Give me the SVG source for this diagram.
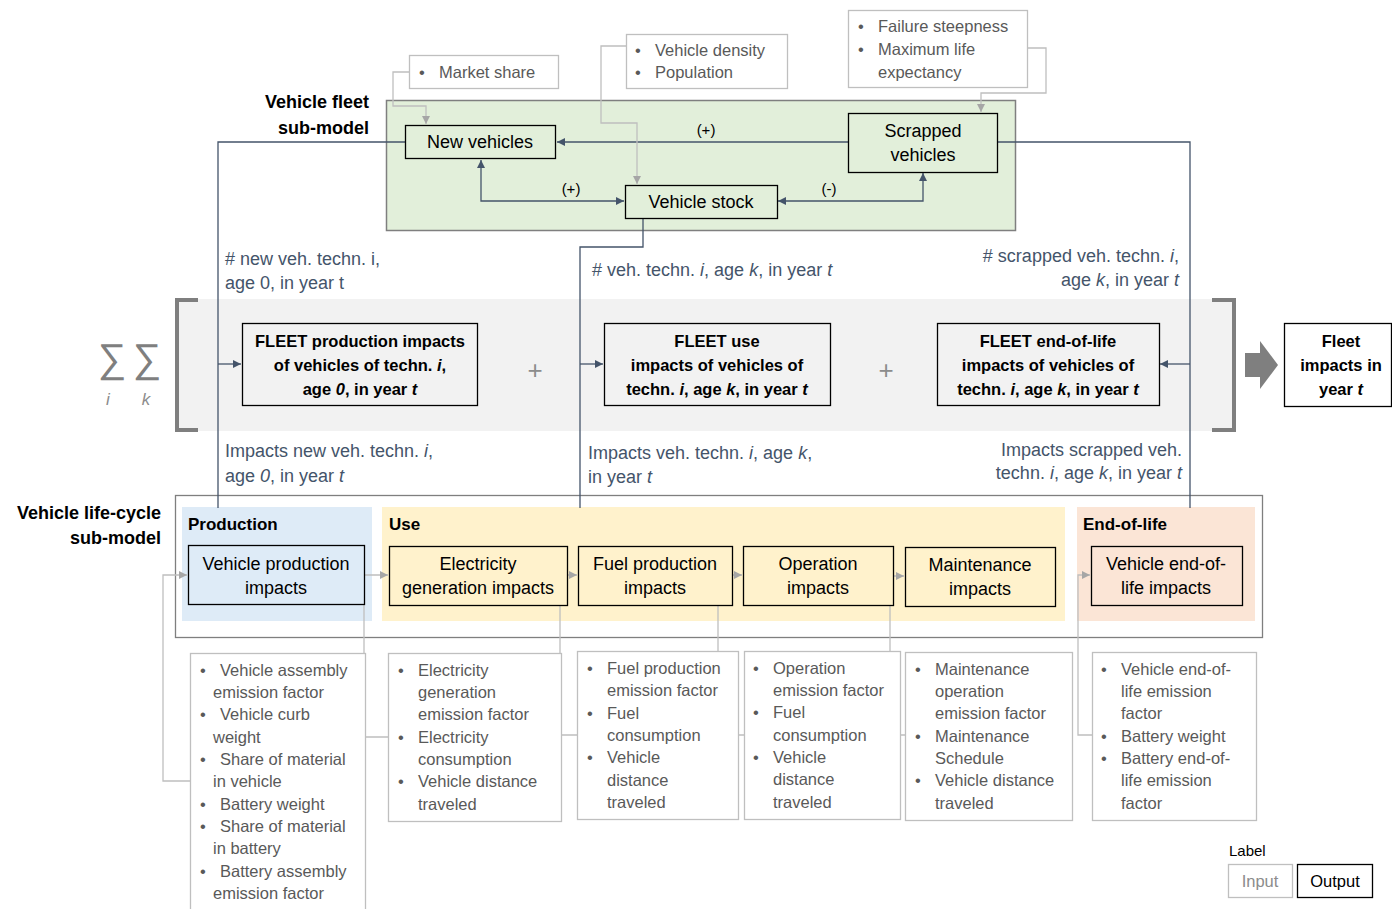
<svg xmlns="http://www.w3.org/2000/svg" width="1392" height="909" viewBox="0 0 1392 909">
  <defs>
    <style>
      text { font-family: "Liberation Sans", Arial, sans-serif; }
      .t { font-size: 18px; fill: #000; text-anchor: middle; }
      .tb { font-size: 16.5px; font-weight: bold; fill: #000; text-anchor: middle; }
      .hd { font-size: 18px; font-weight: bold; fill: #000; text-anchor: end; }
      .ph { font-size: 17px; font-weight: bold; fill: #000; }
      .lbl { font-size: 18px; fill: #44546a; }
      .inp { font-size: 16.5px; fill: #595959; }
      .sign { font-size: 15px; fill: #000; text-anchor: middle; }
      .plus { font-size: 26px; fill: #8c8c8c; text-anchor: middle; }
      .sigma { font-size: 40px; fill: #7f7f7f; text-anchor: middle; }
      .node { stroke: #000; stroke-width: 1.3; }
      .in { fill: #fff; stroke: #bfbfbf; stroke-width: 1.3; }
      .dk { fill: none; stroke: #44546a; stroke-width: 1.3; }
      .gr { fill: none; stroke: #bfbfbf; stroke-width: 1.3; }
      .it { font-style: italic; }
    </style>
    <marker id="arrD" markerUnits="userSpaceOnUse" viewBox="0 0 8 8" refX="8" refY="4" markerWidth="8" markerHeight="8" orient="auto-start-reverse">
      <path d="M0,0 L8,4 L0,8 z" fill="#44546a"/>
    </marker>
    <marker id="arrG" markerUnits="userSpaceOnUse" viewBox="0 0 8 8" refX="8" refY="4" markerWidth="8" markerHeight="8" orient="auto-start-reverse">
      <path d="M0,0 L8,4 L0,8 z" fill="#a6a6a6"/>
    </marker>
  </defs>

  <rect width="1392" height="909" fill="#fff"/>

  <!-- Panels -->
  <g id="fleet-panel">
    <rect x="386.5" y="100.5" width="629" height="130" fill="#e2efda" stroke="#7f7f7f" stroke-width="1.5"/>
    <text class="hd" x="369" y="108">Vehicle fleet</text>
    <text class="hd" x="369" y="134">sub-model</text>
  </g>

  <g id="sum-band">
    <rect x="175" y="299" width="1060" height="132" fill="#f2f2f2"/>
    <path d="M198,300 H177 V430 H198" fill="none" stroke="#7f7f7f" stroke-width="4"/>
    <path d="M1212,300 H1234 V430 H1212" fill="none" stroke="#7f7f7f" stroke-width="4"/>
    <text class="sigma" x="112" y="372">∑</text>
    <text class="sigma" x="147" y="372">∑</text>
    <text x="108" y="405" font-size="17" fill="#8c8c8c" text-anchor="middle" class="it">i</text>
    <text x="146" y="405" font-size="17" fill="#8c8c8c" text-anchor="middle" class="it">k</text>
    <text class="plus" x="535" y="379">+</text>
    <text class="plus" x="886" y="379">+</text>
    <path d="M1245,353 H1260 V341 L1278,365 L1260,389 V377 H1245 z" fill="#7f7f7f"/>
  </g>

  <g id="lifecycle-panel">
    <rect x="175.5" y="495.5" width="1087" height="142" fill="#fff" stroke="#7f7f7f" stroke-width="1.3"/>
    <text class="hd" x="161" y="519">Vehicle life-cycle</text>
    <text class="hd" x="161" y="544">sub-model</text>
    <rect x="182" y="507" width="190" height="114" fill="#deebf7"/>
    <text class="ph" x="188" y="530">Production</text>
    <rect x="382" y="507" width="683" height="114" fill="#fff2cc"/>
    <text class="ph" x="389" y="530">Use</text>
    <rect x="1077" y="507" width="178" height="114" fill="#fbe5d6"/>
    <text class="ph" x="1083" y="530">End-of-life</text>
  </g>

  <!-- Connectors -->
  <g id="connectors">
    <path class="dk" d="M848,142 H557" marker-end="url(#arrD)"/>
    <path class="dk" d="M481,160 V201 H624" marker-start="url(#arrD)" marker-end="url(#arrD)"/>
    <path class="dk" d="M778,201 H923 V173" marker-start="url(#arrD)" marker-end="url(#arrD)"/>
    <path class="dk" d="M405,142 H218 V508"/>
    <path class="dk" d="M218,364 H241" marker-end="url(#arrD)"/>
    <path class="dk" d="M643,218 V247 H580 V508"/>
    <path class="dk" d="M580,364 H603" marker-end="url(#arrD)"/>
    <path class="dk" d="M997,142 H1190 V508"/>
    <path class="dk" d="M1190,364 H1160" marker-end="url(#arrD)"/>

    <path class="gr" d="M409,72 H393 V106 H426 V124" marker-end="url(#arrG)"/>
    <path class="gr" d="M626,46 H601 V123 H637 V184" marker-end="url(#arrG)"/>
    <path class="gr" d="M1027,48 H1046 V93 H981 V112" marker-end="url(#arrG)"/>
    <path class="gr" d="M190,781 H163 V575 H187" marker-end="url(#arrG)"/>
    <path class="gr" d="M388,737 H364 V575 H388" marker-end="url(#arrG)"/>
    <path class="gr" d="M577,735 H560 V575 H577" marker-end="url(#arrG)"/>
    <path class="gr" d="M744,735 H718 V575 H742" marker-end="url(#arrG)"/>
    <path class="gr" d="M905,735 H890 V576 H904" marker-end="url(#arrG)"/>
    <path class="gr" d="M1092,735 H1078 V575 H1090" marker-end="url(#arrG)"/>
  </g>

  <!-- Connector labels -->
  <g id="connector-labels">
    <text class="sign" x="706" y="135">(+)</text>
    <text class="sign" x="571" y="194">(+)</text>
    <text class="sign" x="829" y="194">(-)</text>
    <text class="lbl" x="225" y="265"># new veh. techn. i,</text>
    <text class="lbl" x="225" y="289">age 0, in year t</text>
    <text class="lbl" x="592" y="276"># veh. techn. <tspan class="it">i</tspan>, age <tspan class="it">k</tspan>, in year <tspan class="it">t</tspan></text>
    <text class="lbl" x="1179" y="262" text-anchor="end"># scrapped veh. techn. <tspan class="it">i</tspan>,</text>
    <text class="lbl" x="1179" y="286" text-anchor="end">age <tspan class="it">k</tspan>, in year <tspan class="it">t</tspan></text>
    <text class="lbl" x="225" y="457">Impacts new veh. techn. <tspan class="it">i</tspan>,</text>
    <text class="lbl" x="225" y="482">age <tspan class="it">0</tspan>, in year <tspan class="it">t</tspan></text>
    <text class="lbl" x="588" y="459">Impacts veh. techn. <tspan class="it">i</tspan>, age <tspan class="it">k</tspan>,</text>
    <text class="lbl" x="588" y="483">in year <tspan class="it">t</tspan></text>
    <text class="lbl" x="1182" y="456" text-anchor="end">Impacts scrapped veh.</text>
    <text class="lbl" x="1182" y="479" text-anchor="end">techn. <tspan class="it">i</tspan>, age <tspan class="it">k</tspan>, in year <tspan class="it">t</tspan></text>
  </g>

  <!-- Fleet sub-model nodes -->
  <g id="new-vehicles">
    <rect class="node" x="405.5" y="125.5" width="150" height="33" fill="#e2efda"/>
    <text class="t" x="480" y="148">New vehicles</text>
  </g>
  <g id="scrapped-vehicles">
    <rect class="node" x="848.5" y="113.5" width="149" height="59" fill="#e2efda"/>
    <text class="t" x="923" y="137">Scrapped</text>
    <text class="t" x="923" y="161">vehicles</text>
  </g>
  <g id="vehicle-stock">
    <rect class="node" x="625.5" y="185.5" width="152" height="33" fill="#e2efda"/>
    <text class="t" x="701" y="208">Vehicle stock</text>
  </g>

  <!-- Fleet sub-model inputs -->
  <g id="in-market-share">
    <rect class="in" x="409.5" y="55.5" width="149" height="33"/>
    <text class="inp" x="419" y="78">•</text>
    <text class="inp" x="439" y="78">Market share</text>
  </g>
  <g id="in-vehicle-density">
    <rect class="in" x="626.5" y="34.5" width="161" height="54"/>
    <text class="inp" x="635" y="56">•</text>
    <text class="inp" x="655" y="56">Vehicle density</text>
    <text class="inp" x="635" y="78">•</text>
    <text class="inp" x="655" y="78">Population</text>
  </g>
  <g id="in-lifetime">
    <rect class="in" x="848.5" y="10.5" width="179" height="77"/>
    <text class="inp" x="858" y="32">•</text>
    <text class="inp" x="878" y="32">Failure steepness</text>
    <text class="inp" x="858" y="55">•</text>
    <text class="inp" x="878" y="55">Maximum life</text>
    <text class="inp" x="878" y="78">expectancy</text>
  </g>

  <!-- Fleet impact nodes -->
  <g id="fleet-production">
    <rect class="node" x="242.5" y="323.5" width="235" height="82" fill="#f2f2f2"/>
    <text class="tb" x="360" y="347">FLEET production impacts</text>
    <text class="tb" x="360" y="371">of vehicles of techn. <tspan class="it">i</tspan>,</text>
    <text class="tb" x="360" y="395">age <tspan class="it">0</tspan>, in year <tspan class="it">t</tspan></text>
  </g>
  <g id="fleet-use">
    <rect class="node" x="604.5" y="323.5" width="226" height="82" fill="#f2f2f2"/>
    <text class="tb" x="717" y="347">FLEET use</text>
    <text class="tb" x="717" y="371">impacts of vehicles of</text>
    <text class="tb" x="717" y="395">techn. <tspan class="it">i</tspan>, age <tspan class="it">k</tspan>, in year <tspan class="it">t</tspan></text>
  </g>
  <g id="fleet-eol">
    <rect class="node" x="937.5" y="323.5" width="222" height="82" fill="#f2f2f2"/>
    <text class="tb" x="1048" y="347">FLEET end-of-life</text>
    <text class="tb" x="1048" y="371">impacts of vehicles of</text>
    <text class="tb" x="1048" y="395">techn. <tspan class="it">i</tspan>, age <tspan class="it">k</tspan>, in year <tspan class="it">t</tspan></text>
  </g>
  <g id="fleet-total">
    <rect class="node" x="1284.5" y="323.5" width="107" height="83" fill="#fff"/>
    <text class="tb" x="1341" y="347">Fleet</text>
    <text class="tb" x="1341" y="371">impacts in</text>
    <text class="tb" x="1341" y="395">year <tspan class="it">t</tspan></text>
  </g>

  <!-- Life-cycle stage nodes -->
  <g id="vehicle-production">
    <rect class="node" x="188.5" y="545.5" width="176" height="59" fill="#deebf7"/>
    <text class="t" x="276" y="570">Vehicle production</text>
    <text class="t" x="276" y="594">impacts</text>
  </g>
  <g id="electricity-generation">
    <rect class="node" x="389.5" y="546.5" width="178" height="59" fill="#fff2cc"/>
    <text class="t" x="478" y="570">Electricity</text>
    <text class="t" x="478" y="594">generation impacts</text>
  </g>
  <g id="fuel-production">
    <rect class="node" x="578.5" y="546.5" width="154" height="59" fill="#fff2cc"/>
    <text class="t" x="655" y="570">Fuel production</text>
    <text class="t" x="655" y="594">impacts</text>
  </g>
  <g id="operation">
    <rect class="node" x="743.5" y="546.5" width="150" height="59" fill="#fff2cc"/>
    <text class="t" x="818" y="570">Operation</text>
    <text class="t" x="818" y="594">impacts</text>
  </g>
  <g id="maintenance">
    <rect class="node" x="905.5" y="547.5" width="150" height="59" fill="#fff2cc"/>
    <text class="t" x="980" y="571">Maintenance</text>
    <text class="t" x="980" y="595">impacts</text>
  </g>
  <g id="vehicle-eol">
    <rect class="node" x="1091.5" y="546.5" width="151" height="59" fill="#fbe5d6"/>
    <text class="t" x="1166" y="570">Vehicle end-of-</text>
    <text class="t" x="1166" y="594">life impacts</text>
  </g>

  <!-- Life-cycle inputs -->
  <g id="in-production">
    <rect class="in" x="190.5" y="653.5" width="175" height="262"/>
    <text class="inp" x="200" y="676">•</text><text class="inp" x="220" y="676">Vehicle assembly</text>
    <text class="inp" x="213" y="698">emission factor</text>
    <text class="inp" x="200" y="720">•</text><text class="inp" x="220" y="720">Vehicle curb</text>
    <text class="inp" x="213" y="743">weight</text>
    <text class="inp" x="200" y="765">•</text><text class="inp" x="220" y="765">Share of material</text>
    <text class="inp" x="213" y="787">in vehicle</text>
    <text class="inp" x="200" y="810">•</text><text class="inp" x="220" y="810">Battery weight</text>
    <text class="inp" x="200" y="832">•</text><text class="inp" x="220" y="832">Share of material</text>
    <text class="inp" x="213" y="854">in battery</text>
    <text class="inp" x="200" y="877">•</text><text class="inp" x="220" y="877">Battery assembly</text>
    <text class="inp" x="213" y="899">emission factor</text>
  </g>
  <g id="in-electricity">
    <rect class="in" x="388.5" y="653.5" width="173" height="168"/>
    <text class="inp" x="398" y="676">•</text><text class="inp" x="418" y="676">Electricity</text>
    <text class="inp" x="418" y="698">generation</text>
    <text class="inp" x="418" y="720">emission factor</text>
    <text class="inp" x="398" y="743">•</text><text class="inp" x="418" y="743">Electricity</text>
    <text class="inp" x="418" y="765">consumption</text>
    <text class="inp" x="398" y="787">•</text><text class="inp" x="418" y="787">Vehicle distance</text>
    <text class="inp" x="418" y="810">traveled</text>
  </g>
  <g id="in-fuel">
    <rect class="in" x="577.5" y="651.5" width="161" height="168"/>
    <text class="inp" x="587" y="674">•</text><text class="inp" x="607" y="674">Fuel production</text>
    <text class="inp" x="607" y="696">emission factor</text>
    <text class="inp" x="587" y="719">•</text><text class="inp" x="607" y="719">Fuel</text>
    <text class="inp" x="607" y="741">consumption</text>
    <text class="inp" x="587" y="763">•</text><text class="inp" x="607" y="763">Vehicle</text>
    <text class="inp" x="607" y="786">distance</text>
    <text class="inp" x="607" y="808">traveled</text>
  </g>
  <g id="in-operation">
    <rect class="in" x="744.5" y="651.5" width="156" height="168"/>
    <text class="inp" x="753" y="674">•</text><text class="inp" x="773" y="674">Operation</text>
    <text class="inp" x="773" y="696">emission factor</text>
    <text class="inp" x="753" y="718">•</text><text class="inp" x="773" y="718">Fuel</text>
    <text class="inp" x="773" y="741">consumption</text>
    <text class="inp" x="753" y="763">•</text><text class="inp" x="773" y="763">Vehicle</text>
    <text class="inp" x="773" y="785">distance</text>
    <text class="inp" x="773" y="808">traveled</text>
  </g>
  <g id="in-maintenance">
    <rect class="in" x="905.5" y="652.5" width="167" height="168"/>
    <text class="inp" x="915" y="675">•</text><text class="inp" x="935" y="675">Maintenance</text>
    <text class="inp" x="935" y="697">operation</text>
    <text class="inp" x="935" y="719">emission factor</text>
    <text class="inp" x="915" y="742">•</text><text class="inp" x="935" y="742">Maintenance</text>
    <text class="inp" x="935" y="764">Schedule</text>
    <text class="inp" x="915" y="786">•</text><text class="inp" x="935" y="786">Vehicle distance</text>
    <text class="inp" x="935" y="809">traveled</text>
  </g>
  <g id="in-eol">
    <rect class="in" x="1092.5" y="652.5" width="164" height="168"/>
    <text class="inp" x="1101" y="675">•</text><text class="inp" x="1121" y="675">Vehicle end-of-</text>
    <text class="inp" x="1121" y="697">life emission</text>
    <text class="inp" x="1121" y="719">factor</text>
    <text class="inp" x="1101" y="742">•</text><text class="inp" x="1121" y="742">Battery weight</text>
    <text class="inp" x="1101" y="764">•</text><text class="inp" x="1121" y="764">Battery end-of-</text>
    <text class="inp" x="1121" y="786">life emission</text>
    <text class="inp" x="1121" y="809">factor</text>
  </g>

  <!-- Legend -->
  <g id="legend">
    <text x="1229" y="856" font-size="15" fill="#000">Label</text>
    <rect class="in" x="1228.5" y="864.5" width="64" height="33"/>
    <text x="1260" y="887" font-size="16.5" fill="#8c8c8c" text-anchor="middle">Input</text>
    <rect class="node" x="1297.5" y="864.5" width="75" height="33" fill="#fff"/>
    <text x="1335" y="887" font-size="16.5" fill="#000" text-anchor="middle">Output</text>
  </g>
</svg>
